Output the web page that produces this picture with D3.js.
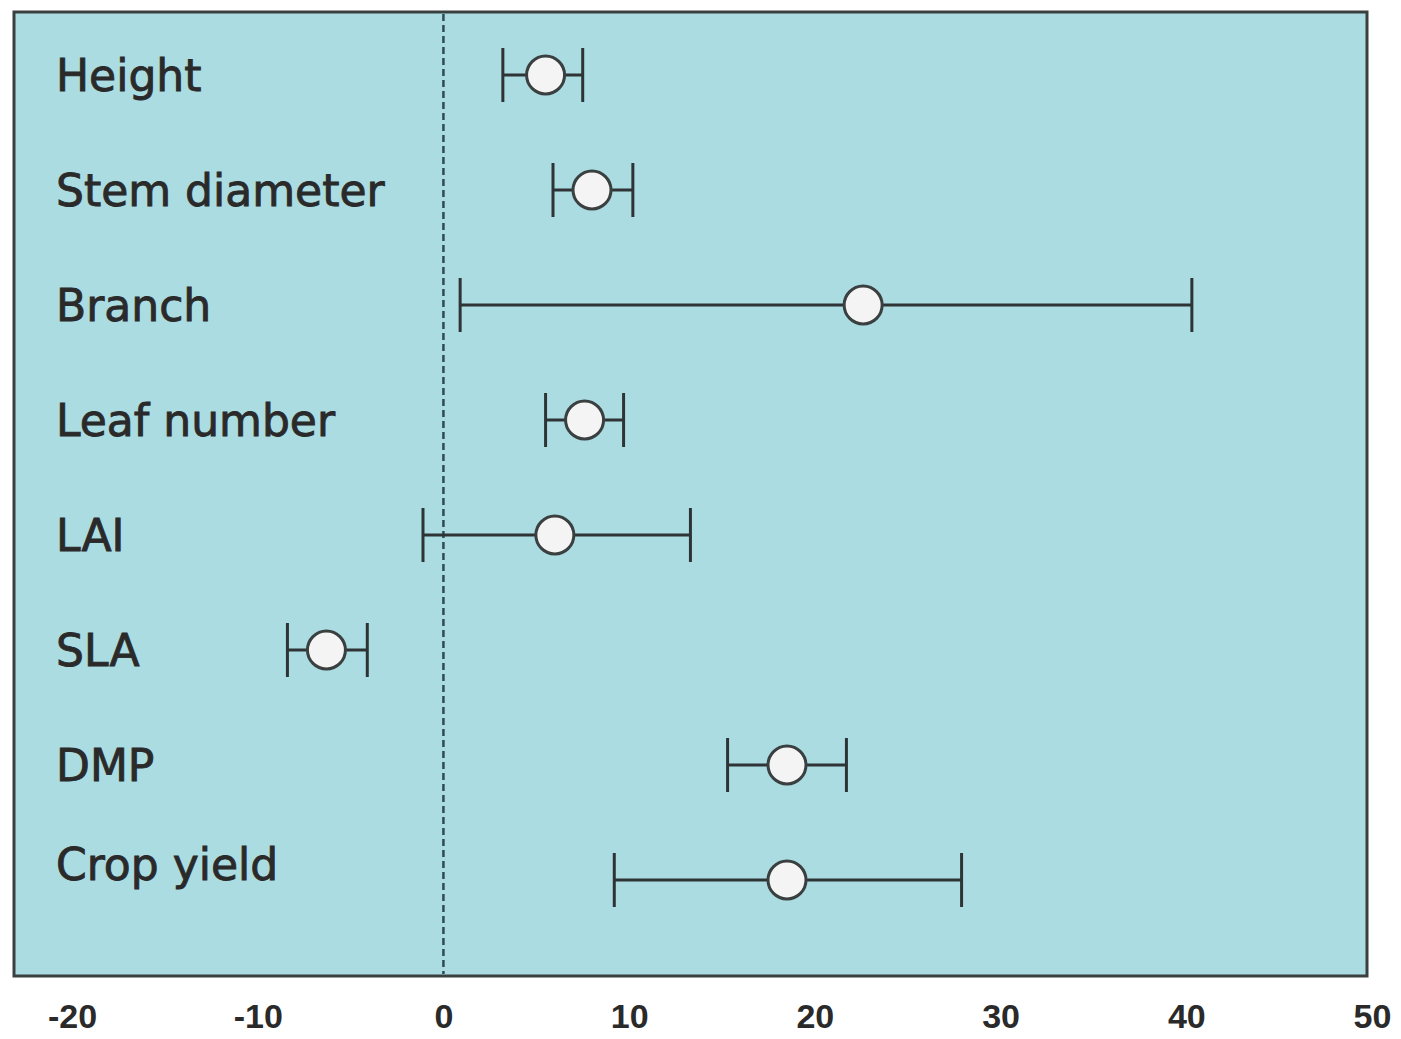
<!DOCTYPE html>
<html><head><meta charset="utf-8">
<script src="https://cdn.jsdelivr.net/npm/d3@7"></script>
<style>body{margin:0;background:#fff;}svg{display:block;}</style>
</head><body>
<script>
const categories = ["Height","Stem diameter","Branch","Leaf number","LAI","SLA","DMP","Crop yield"];
const means = [5.5, 8.0, 22.6, 7.6, 6.0, -6.3, 18.5, 18.5];
const lower = [3.2, 5.9, 0.9, 5.5, -1.1, -8.4, 15.3, 9.2];
const upper = [7.5, 10.2, 40.3, 9.7, 13.3, -4.1, 21.7, 27.9];
const tickValues = [-20,-10,0,10,20,30,40,50];

const W = 1401, H = 1039;
const box = {left:14, top:12, right:1367, bottom:976};
const svg = d3.select("body").append("svg").attr("width",W).attr("height",H);

const x = d3.scaleLinear().domain([-20,50]).range([72,1372]);
const y = d3.scalePoint().domain(categories).range([75,880]);

svg.append("rect").attr("x",box.left).attr("y",box.top)
  .attr("width",box.right-box.left).attr("height",box.bottom-box.top)
  .attr("fill","#aadce2").attr("stroke","#3a3f40").attr("stroke-width",3);

svg.append("line").attr("x1",x(0)).attr("x2",x(0)).attr("y1",box.top+2).attr("y2",box.bottom-2)
  .attr("stroke","#2f4a55").attr("stroke-width",2.5).attr("stroke-dasharray","7,4");

// labels
svg.append("g").selectAll("text").data(categories).join("text")
  .attr("x",56).attr("y",(d,i)=>y(d)+ (i===7?-12:4))
  .attr("dominant-baseline","middle")
  .attr("font-family","'DejaVu Sans', Verdana, sans-serif")
  .attr("font-size",44).attr("fill","#2a2a2a")
  .attr("stroke","#2a2a2a").attr("stroke-width",0.9)
  .text(d=>d);

const rows = categories.map((c,i)=>({c, m:means[i], lo:lower[i], hi:upper[i]}));
const g = svg.append("g").attr("stroke","#2e3436").attr("stroke-width",3);
g.selectAll("line.bar").data(rows).join("line").attr("class","bar")
  .attr("x1",d=>x(d.lo)).attr("x2",d=>x(d.hi)).attr("y1",d=>y(d.c)).attr("y2",d=>y(d.c));
g.selectAll("line.lc").data(rows).join("line").attr("class","lc")
  .attr("x1",d=>x(d.lo)).attr("x2",d=>x(d.lo)).attr("y1",d=>y(d.c)-27).attr("y2",d=>y(d.c)+27);
g.selectAll("line.hc").data(rows).join("line").attr("class","hc")
  .attr("x1",d=>x(d.hi)).attr("x2",d=>x(d.hi)).attr("y1",d=>y(d.c)-27).attr("y2",d=>y(d.c)+27);
g.selectAll("circle").data(rows).join("circle")
  .attr("cx",d=>x(d.m)).attr("cy",d=>y(d.c)).attr("r",19)
  .attr("fill","#f4f4f4").attr("stroke","#3a3f40").attr("stroke-width",3);

// x axis tick labels
const axis = d3.axisBottom(x).tickValues(tickValues).tickSize(0).tickPadding(0).tickFormat(d=>String(d));
const ax = svg.append("g").attr("transform","translate(0,1004)").call(axis);
ax.select(".domain").remove();
ax.selectAll("text").attr("font-family","'Liberation Sans Narrow','Arial Narrow','Liberation Sans',sans-serif")
  .attr("font-weight","bold").attr("font-size",34).attr("fill","#2a2a2a");
</script>
</body></html>
